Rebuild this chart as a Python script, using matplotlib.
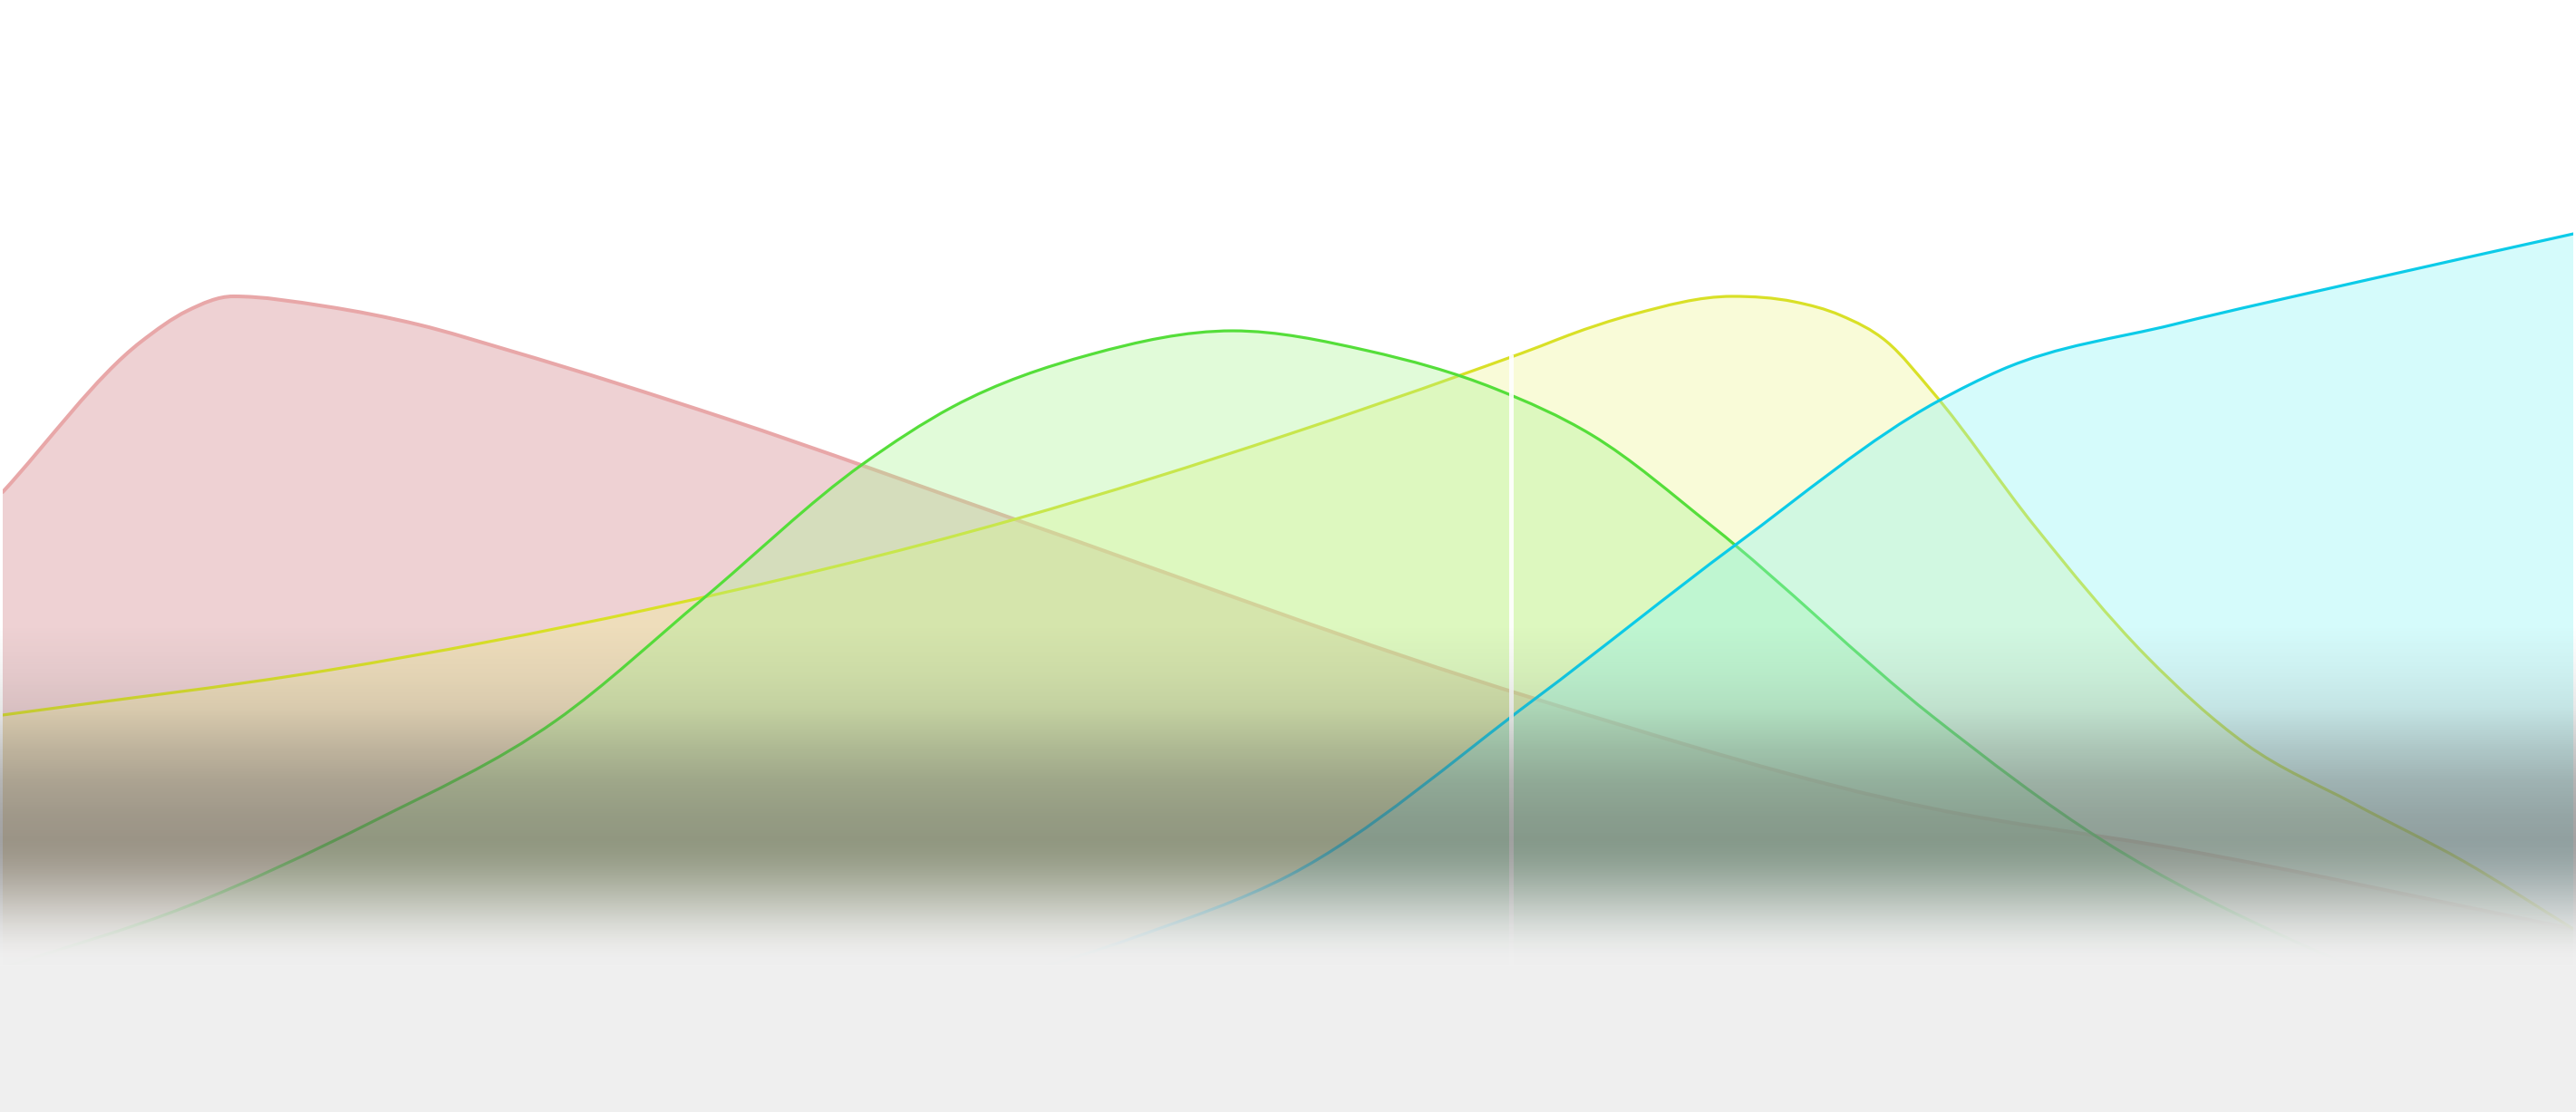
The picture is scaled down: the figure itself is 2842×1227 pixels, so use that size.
import numpy as np
import matplotlib
matplotlib.use("Agg")
import matplotlib.pyplot as plt
from matplotlib.path import Path
from matplotlib.patches import PathPatch

# ---------------- data (x: 0-100 across the chart, y: 0-100 from the bottom) ----------------
pink_x = [0, 5.38, 7.18, 8.97, 12.56, 16.15, 19.74, 28.15, 39.37, 59.61, 75.05, 84.45, 100]
pink_y = [55.75, 69.27, 72.05, 73.35, 72.45, 70.82, 68.46, 62.35, 53.30, 37.16, 27.30, 23.72, 16.46]

yellow_x = [0, 12.77, 25.02, 39.37, 50.04, 56.90, 59.82, 60.91, 63.41, 67.28, 69.70, 71.50,
            73.29, 75.09, 79.03, 83.39, 87.26, 91.48, 95.71, 100]
yellow_y = [35.70, 39.77, 45.15, 53.30, 60.96, 66.42, 68.87, 69.85, 71.72, 73.35, 72.86, 71.64,
            69.28, 64.71, 52.73, 40.99, 33.09, 27.71, 22.58, 16.46]

green_x = [0, 7.18, 14.36, 21.53, 27.23, 33.46, 36.95, 42.33, 47.85, 53.10, 58.06, 61.82,
           66.47, 75.05, 81.67, 89.34, 100]
green_y = [12.96, 18.50, 26.08, 35.21, 46.13, 58.27, 63.41, 68.13, 70.25, 68.46, 65.04, 60.88,
           52.73, 35.62, 24.45, 15.16, 6.28]

cyan_x = [35.19, 44.16, 50.04, 59.61, 67.42, 75.26, 77.76, 84.45, 91.48, 100]
cyan_y = [9.54, 15.81, 21.27, 37.16, 51.02, 63.89, 66.75, 70.82, 74.57, 78.97]

cursor_x = 58.66
cursor_top = 68.1

series = [
    (pink_x, pink_y, "#d17c81", "#e8a7a8", 2.9),
    (yellow_x, yellow_y, "#eef490", "#d9e027", 2.3),
    (green_x, green_y, "#a9f492", "#55de3a", 2.3),
    (cyan_x, cyan_y, "#87f4f4", "#0ccbe8", 2.3),
]

W, H = 2842, 1227


def tangents(x, y):
    """Three-point (Bessel) tangents; flat at local peaks."""
    h = np.diff(x)
    d = np.diff(y) / h
    n = len(x)
    m = np.zeros(n)
    m[0], m[-1] = d[0], d[-1]
    for i in range(1, n - 1):
        if d[i - 1] * d[i] <= 0:
            m[i] = 0.0
        else:
            m[i] = (h[i] * d[i - 1] + h[i - 1] * d[i]) / (h[i - 1] + h[i])
    return m


def curve(xs, ys):
    x = np.asarray(xs, float)
    y = np.asarray(ys, float)
    m = tangents(x, y)
    verts = [(x[0], y[0])]
    codes = [Path.MOVETO]
    for i in range(len(x) - 1):
        h = x[i + 1] - x[i]
        verts += [(x[i] + h / 3, y[i] + m[i] * h / 3),
                  (x[i + 1] - h / 3, y[i + 1] - m[i + 1] * h / 3),
                  (x[i + 1], y[i + 1])]
        codes += [Path.CURVE4] * 3
    return verts, codes


fig = plt.figure(figsize=(W / 100, H / 100), dpi=100)
fig.patch.set_facecolor("white")
ax = fig.add_axes([3 / W, 0, (W - 6) / W, 1])
ax.set_xlim(0, 100)
ax.set_ylim(0, 100)
ax.axis("off")

z = 1
for xs, ys, fcol, lcol, lw in series:
    v, c = curve(xs, ys)
    fv = [(xs[0], 0)] + v + [(xs[-1], 0), (xs[0], 0)]
    fc = [Path.MOVETO] + [Path.LINETO] + c[1:] + [Path.LINETO, Path.CLOSEPOLY]
    ax.add_patch(PathPatch(Path(fv, fc), facecolor=fcol, alpha=0.35, edgecolor="none", zorder=z))
    ax.add_patch(PathPatch(Path(v, c), fill=False, edgecolor=lcol, lw=lw, zorder=z + 0.5,
                           capstyle="round", joinstyle="round"))
    z += 1

ax.vlines(cursor_x, 0, cursor_top, color="white", lw=3.6, alpha=0.92, zorder=z)

# ---------------- bottom fog overlay ----------------
rows = np.arange(H, dtype=float)
a1_y = [0, 690, 740, 780, 822, 861, 900, 925]
a1_v = [0, 0, 0.07, 0.15, 0.33, 0.48, 0.57, 0.60]
alpha = np.interp(rows, a1_y, a1_v)
prem = alpha * 100.0
y0, y1 = 922, 1065
m2 = (rows > y0) & (rows <= y1)
t = (rows[m2] - y0) / (y1 - y0)
ts = t * t * (3 - 2 * t)
alpha[m2] = 0.60 + 0.40 * ts
prem[m2] = 60 + (240 - 60) * ts
m3 = rows > y1
alpha[m3] = 1.0
prem[m3] = np.interp(rows[m3], [y1, H], [240, 239])
col = np.where(alpha > 0, prem / np.maximum(alpha, 1e-6), 0) / 255.0
img = np.zeros((H, 1, 4))
img[:, 0, 0] = col
img[:, 0, 1] = col
img[:, 0, 2] = col
img[:, 0, 3] = alpha

fog = fig.add_axes([0, 0, 1, 1], zorder=10)
fog.patch.set_alpha(0)
fog.axis("off")
fog.imshow(img, aspect="auto", interpolation="nearest", extent=(0, 1, 0, 1), origin="upper")
fog.set_xlim(0, 1)
fog.set_ylim(0, 1)

fig.savefig("out.png", dpi=100)
